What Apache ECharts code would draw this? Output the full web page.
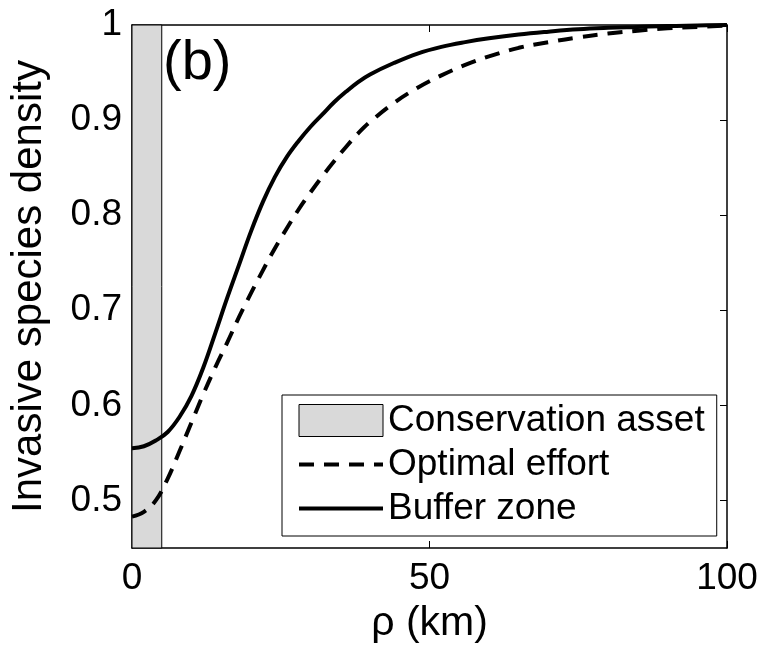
<!DOCTYPE html>
<html>
<head>
<meta charset="utf-8">
<script src="https://cdn.jsdelivr.net/npm/echarts@6/dist/echarts.min.js"></script>
<style>html,body{margin:0;padding:0;background:#fff;}#c{width:762px;height:649px;}</style>
</head>
<body>
<div id="c"></div>
<script>
// distance from asset centre (km)
const rho = [0, 2, 4, 6, 8, 10, 12, 14, 16, 18, 20, 22, 24, 26, 28, 30, 32, 34, 36, 38, 40, 44, 48, 52, 56, 60, 65, 70, 75, 80, 85, 90, 95, 100];
const optimalEffort = [0.483, 0.488, 0.500, 0.523, 0.552, 0.582, 0.612, 0.640, 0.666, 0.693, 0.718, 0.742, 0.765, 0.786, 0.806, 0.824, 0.841, 0.857, 0.872, 0.886, 0.898, 0.918, 0.934, 0.947, 0.958, 0.967, 0.976, 0.982, 0.987, 0.991, 0.994, 0.9965, 0.998, 0.9995];
const bufferZone = [0.555, 0.557, 0.563, 0.572, 0.588, 0.610, 0.640, 0.676, 0.713, 0.748, 0.783, 0.814, 0.840, 0.861, 0.878, 0.893, 0.906, 0.919, 0.930, 0.940, 0.948, 0.960, 0.970, 0.977, 0.982, 0.986, 0.990, 0.993, 0.9955, 0.997, 0.998, 0.999, 0.9995, 1.0];
const assetRange = [0, 5];
const xTicks = [0, 50, 100];
const yTicks = [0.5, 0.6, 0.7, 0.8, 0.9, 1];
const seriesNames = ['Conservation asset', 'Optimal effort', 'Buffer zone'];

const FONT = '"Liberation Sans", Arial, Helvetica, sans-serif';
const pair = (xs, ys) => xs.map((x, i) => [x, ys[i]]);
const DASH = [15, 10];

const chart = echarts.init(document.getElementById('c'), null, {renderer: 'canvas'});
const axisCommon = {
  axisLine: {show: true, onZero: false, lineStyle: {color: '#000', width: 1.5}},
  axisTick: {show: true, inside: true, length: 7, lineStyle: {color: '#000', width: 1}},
  splitLine: {show: false}
};
chart.setOption({
  animation: false,
  backgroundColor: '#fff',
  grid: {left: 124, right: 35, top: 25, bottom: 97, containLabel: false},
  xAxis: [
    Object.assign({}, axisCommon, {
      type: 'value', min: 0, max: 100, interval: 50, position: 'bottom',
      name: 'ρ (km)', nameLocation: 'middle', nameGap: 55,
      nameTextStyle: {fontSize: 41, color: '#000', fontFamily: FONT},
      axisTick: Object.assign({}, axisCommon.axisTick, {customValues: xTicks}),
      axisLabel: {show: true, customValues: xTicks, margin: 12, fontSize: 37, color: '#000', fontFamily: FONT}
    }),
    Object.assign({}, axisCommon, {
      type: 'value', min: 0, max: 100, interval: 50, position: 'top',
      axisTick: Object.assign({}, axisCommon.axisTick, {customValues: xTicks}),
      axisLabel: {show: false}
    })
  ],
  yAxis: [
    Object.assign({}, axisCommon, {
      type: 'value', min: 0.45, max: 1, position: 'left',
      name: 'Invasive species density', nameLocation: 'middle', nameGap: 82, nameRotate: 90,
      nameTextStyle: {fontSize: 42, color: '#000', fontFamily: FONT},
      axisTick: Object.assign({}, axisCommon.axisTick, {customValues: yTicks}),
      axisLabel: {show: true, customValues: yTicks, margin: 10, fontSize: 37, color: '#000', fontFamily: FONT}
    }),
    Object.assign({}, axisCommon, {
      type: 'value', min: 0.45, max: 1, position: 'right',
      axisTick: Object.assign({}, axisCommon.axisTick, {customValues: yTicks}),
      axisLabel: {show: false}
    })
  ],
  legend: {
    orient: 'vertical',
    left: 282, top: 395,
    padding: [7, 12, 9, 15],
    itemWidth: 84, itemHeight: 32, itemGap: 7, itemTextGap: 6,
    backgroundColor: '#fff', borderColor: '#000', borderWidth: 1, borderRadius: 0,
    textStyle: {fontSize: 37, color: '#000', fontFamily: FONT},
    selectedMode: false,
    data: [
      {name: seriesNames[0], icon: 'rect', itemStyle: {color: '#d9d9d9', borderColor: '#000', borderWidth: 1}},
      {name: seriesNames[1], itemStyle: {opacity: 0, color: 'rgba(0,0,0,0)', borderWidth: 0},
       lineStyle: {color: '#000', width: 4, type: DASH}},
      {name: seriesNames[2], itemStyle: {opacity: 0, color: 'rgba(0,0,0,0)', borderWidth: 0},
       lineStyle: {color: '#000', width: 4, type: 'solid'}}
    ]
  },
  graphic: [{
    type: 'text', left: 163, top: 36, z: 10,
    style: {text: '(b)', fontSize: 56, fill: '#000', fontFamily: FONT}
  }],
  series: [
    {
      name: seriesNames[0], type: 'line', data: [], symbol: 'none',
      itemStyle: {color: '#d9d9d9'},
      lineStyle: {width: 0},
      markArea: {
        silent: true,
        itemStyle: {color: '#d9d9d9', borderColor: '#000', borderWidth: 1},
        data: [[{xAxis: assetRange[0]}, {xAxis: assetRange[1]}]]
      },
      z: 1
    },
    {
      name: seriesNames[1], type: 'line', data: pair(rho, optimalEffort),
      smooth: 0.4, symbol: 'none', showSymbol: false,
      itemStyle: {color: '#000'},
      lineStyle: {color: '#000', width: 4, type: DASH},
      z: 3
    },
    {
      name: seriesNames[2], type: 'line', data: pair(rho, bufferZone),
      smooth: 0.4, symbol: 'none', showSymbol: false,
      itemStyle: {color: '#000'},
      lineStyle: {color: '#000', width: 4},
      z: 3
    }
  ]
});
</script>
</body>
</html>
